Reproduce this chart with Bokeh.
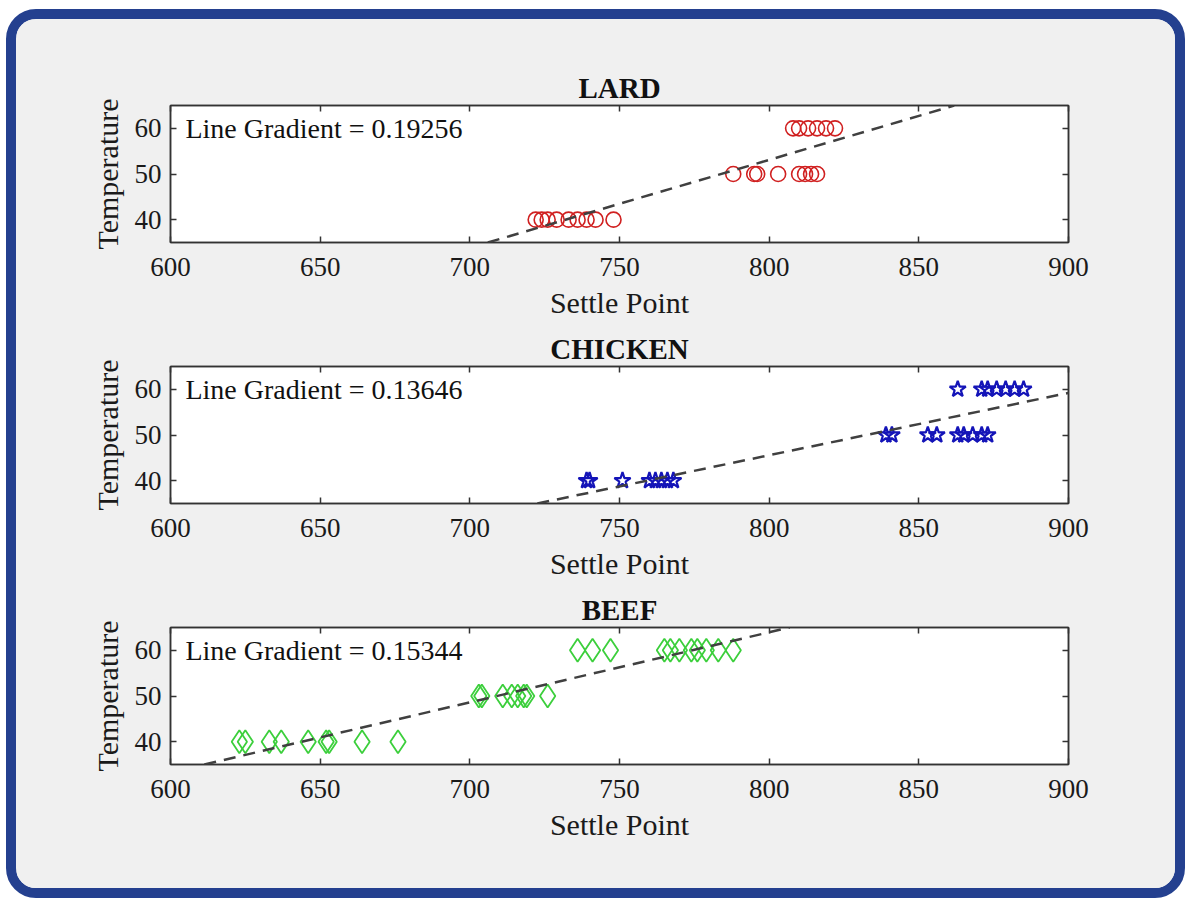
from bokeh.plotting import figure
from bokeh.layouts import column
from bokeh.models import Slope, Label, LinearAxis, FixedTicker, Range1d
from bokeh.embed import file_html
from bokeh.resources import INLINE

# ---------------- data ----------------
x_ticks = [600, 650, 700, 750, 800, 850, 900]
y_ticks = [40, 50, 60]

lard_x = [808, 810, 813, 816, 819, 822,
          788, 795, 796, 803, 810, 812, 814, 816,
          722, 724, 726, 729, 733, 736, 739, 742, 748]
lard_y = [60, 60, 60, 60, 60, 60,
          50, 50, 50, 50, 50, 50, 50, 50,
          40, 40, 40, 40, 40, 40, 40, 40, 40]
lard_gradient = 0.19256
lard_intercept = -100.95

chicken_x = [863, 871, 873, 876, 879, 882, 885,
             839, 841, 853, 856, 863, 865, 868, 871, 873,
             739, 740, 751, 760, 762, 764, 766, 768]
chicken_y = [60, 60, 60, 60, 60, 60, 60,
             50, 50, 50, 50, 50, 50, 50, 50, 50,
             40, 40, 40, 40, 40, 40, 40, 40]
chicken_gradient = 0.13646
chicken_intercept = -63.6

beef_x = [736, 741, 747, 765, 767, 770, 774, 776, 779, 783, 788,
          703, 704, 711, 714, 716, 718, 719, 726,
          623, 625, 633, 637, 646, 652, 653, 664, 676]
beef_y = [60, 60, 60, 60, 60, 60, 60, 60, 60, 60, 60,
          50, 50, 50, 50, 50, 50, 50, 50,
          40, 40, 40, 40, 40, 40, 40, 40, 40]
beef_gradient = 0.15344
beef_intercept = -58.8

FONT = "Liberation Serif"
AX = "#333333"


def style_axis(ax, labels=True):
    ax.major_tick_in = 6
    ax.major_tick_out = 0
    ax.minor_tick_line_color = None
    ax.axis_line_color = AX
    ax.axis_line_width = 1.5
    ax.major_tick_line_color = AX
    ax.major_tick_line_width = 1.5
    ax.major_label_text_font = FONT
    ax.major_label_text_color = "#1a1a1a"
    if labels:
        ax.major_label_text_font_size = "27px"
    else:
        ax.major_label_text_font_size = "0px"
        ax.major_label_standoff = 0


def panel(title, xs, ys, marker, color, size, lw, grad, icpt, min_top, min_bottom):
    p = figure(title=title, x_range=Range1d(600, 900), y_range=Range1d(35, 65),
               frame_width=898, frame_height=137,
               min_border_left=154, min_border_right=107,
               min_border_top=min_top, min_border_bottom=min_bottom,
               output_backend="svg", toolbar_location=None,
               background_fill_color="white", border_fill_color="#f0f0f0",
               outline_line_color=AX, outline_line_width=1.5)
    p.grid.visible = False
    p.title.align = "center"
    p.title.text_font = FONT
    p.title.text_font_size = "29px"
    p.title.text_font_style = "bold"
    p.title.text_color = "#111111"
    p.title.standoff = 4

    p.xaxis.ticker = FixedTicker(ticks=x_ticks)
    p.yaxis.ticker = FixedTicker(ticks=y_ticks)
    style_axis(p.xaxis[0])
    style_axis(p.yaxis[0])
    p.xaxis.major_label_standoff = 15
    p.yaxis.major_label_standoff = 9
    p.xaxis.axis_label = "Settle Point"
    p.yaxis.axis_label = "Temperature"
    for ax in (p.xaxis[0], p.yaxis[0]):
        ax.axis_label_text_font = FONT
        ax.axis_label_text_font_size = "30px"
        ax.axis_label_text_font_style = "normal"
        ax.axis_label_text_color = "#1a1a1a"
    p.xaxis.axis_label_standoff = 7
    p.yaxis.axis_label_standoff = 8

    top = LinearAxis(ticker=FixedTicker(ticks=x_ticks))
    style_axis(top, labels=False)
    p.add_layout(top, "above")
    right = LinearAxis(ticker=FixedTicker(ticks=y_ticks))
    style_axis(right, labels=False)
    p.add_layout(right, "right")

    p.add_layout(Slope(gradient=grad, y_intercept=icpt, line_color="#404040",
                       line_dash="12 8", line_width=2.5))
    p.scatter(xs, ys, marker=marker, size=size, line_color=color,
              fill_color=None, line_width=lw)
    p.add_layout(Label(x=605, y=60, text="Line Gradient = %.5f" % grad,
                       text_baseline="middle", text_font=FONT,
                       text_font_size="28px", text_color="#111111"))
    return p


p1 = panel("LARD", lard_x, lard_y, "circle", "#d02020", 15, 1.6,
           lard_gradient, lard_intercept, 86, 86)
p2 = panel("CHICKEN", chicken_x, chicken_y, "star", "#1414b8", 17, 2.2,
           chicken_gradient, chicken_intercept, 38, 86)
p3 = panel("BEEF", beef_x, beef_y, "diamond", "#3ccf3c", 23, 1.8,
           beef_gradient, beef_intercept, 38, 124)

layout = column(p1, p2, p3, spacing=0,
                styles={"border": "10px solid #24408f", "border-radius": "30px",
                        "overflow": "hidden", "background-color": "#f0f0f0",
                        "margin-left": "6px", "margin-top": "9px"})

open("out.html", "w").write(file_html(layout, INLINE))
